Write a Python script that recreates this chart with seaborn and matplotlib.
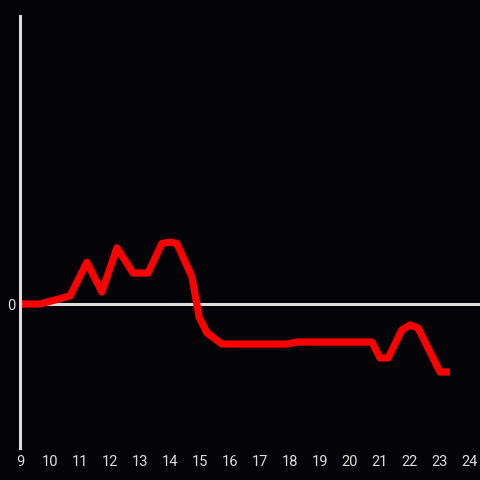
import matplotlib
matplotlib.use("Agg")
import matplotlib.pyplot as plt
import seaborn as sns
import pandas as pd

hours = [9.0, 9.67, 10.67, 11.23, 11.73, 12.23, 12.77, 13.27, 13.73, 14.0, 14.23,
         14.73, 14.97, 15.23, 15.73, 17.9, 18.23, 20.73, 21.0, 21.27, 21.73, 22.0,
         22.27, 23.0, 23.33]
values = [0.0, 0.0, 0.56, 2.9, 0.83, 3.9, 2.15, 2.15, 4.2, 4.3, 4.2,
          1.9, -0.9, -2.0, -2.78, -2.78, -2.64, -2.64, -3.75, -3.75, -1.8, -1.46,
          -1.67, -4.72, -4.72]
xticks = list(range(9, 25))
yticks = [0]

bg = "#040307"
fg = "#dddddd"

sns.set_theme(style="dark")
plt.rcParams["font.family"] = ["Roboto", "DejaVu Sans"]

fig = plt.figure(figsize=(4.8, 4.8), dpi=100, facecolor=bg)
ax = fig.add_axes([20/480, 32/480, 460/480, 432/480])
ax.set_facecolor(bg)

df = pd.DataFrame({"hour": hours, "value": values})
sns.lineplot(data=df, x="hour", y="value", ax=ax, color="#ff0000", linewidth=5.2,
             sort=False, estimator=None, solid_capstyle="butt", solid_joinstyle="round")

ax.axhline(0, color=fg, linewidth=2.2, zorder=1)
ax.set_xlim(9, 9 + 460/30)
ax.set_ylim(-10, 20)
ax.set_xticks(xticks)
ax.set_xticklabels([str(t) for t in xticks])
ax.set_yticks(yticks)
ax.set_yticklabels(["0"])
ax.tick_params(axis="both", length=0, colors=fg, labelsize=10.5)
ax.tick_params(axis="x", pad=5)
ax.tick_params(axis="y", pad=3)
ax.set_xlabel("")
ax.set_ylabel("")
ax.grid(False)
for s in ["top", "right", "bottom"]:
    ax.spines[s].set_visible(False)
ax.spines["left"].set_visible(True)
ax.spines["left"].set_color(fg)
ax.spines["left"].set_linewidth(2.2)

fig.savefig("out.png", dpi=100, facecolor=bg)
